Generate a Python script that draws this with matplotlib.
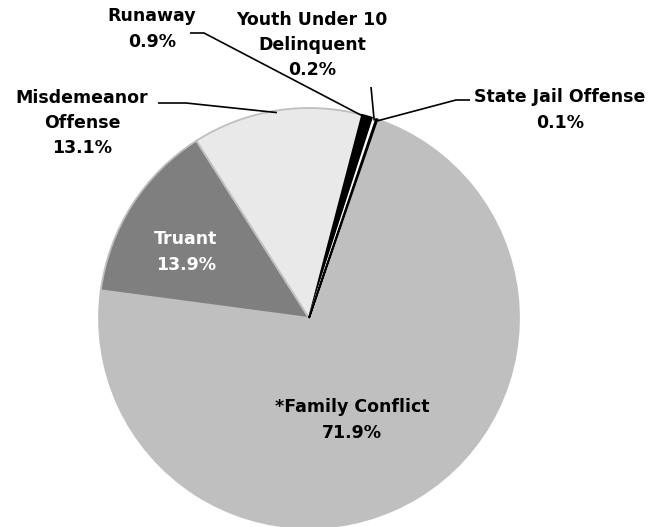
import numpy as np
import matplotlib
matplotlib.use("Agg")
import matplotlib.pyplot as plt

# data, clockwise from just right of 12 o'clock
categories = ["*Family Conflict", "Truant", "Misdemeanor\nOffense", "Runaway",
              "Youth Under 10\nDelinquent", "State Jail Offense"]
shares = [71.9, 13.9, 13.1, 0.9, 0.2, 0.1]
colors = ["#bfbfbf", "#7f7f7f", "#e9e9e9", "#000000", "#ffffff", "#000000"]
edges = ["#bfbfbf", "#bfbfbf", "#bfbfbf", "#000000", "#ffffff", "#000000"]

# pixel -> data helpers (pie centre at px (309, 318), radius 210 px)
CX, CY, R = 309, 318, 210
W, H = 664, 527


def px(x, y):
    return (x - CX) / R, (CY - y) / R


fig = plt.figure(figsize=(W / 100, H / 100), dpi=100)
ax = fig.add_axes([0, 0, 1, 1])

wedges, _ = ax.pie(shares, colors=colors, startangle=71, counterclock=False,
                   radius=1, wedgeprops=dict(linewidth=1.3))
for w, ec in zip(wedges, edges):
    w.set_edgecolor(ec)

ax.set_xlim((0 - CX) / R, (W - CX) / R)
ax.set_ylim((CY - H) / R, CY / R)
ax.set_aspect("auto")
ax.axis("off")

font = dict(family="DejaVu Sans", fontweight="bold", fontsize=12.5,
            ha="center", va="center", linespacing=1.52)


def label_text(i):
    return f"{categories[i]}\n{shares[i]:.1f}%"


def wedge_point(i, r=1.0):
    w = wedges[i]
    mid = np.deg2rad((w.theta1 + w.theta2) / 2)
    return r * np.cos(mid), r * np.sin(mid)


# labels inside the pie
ax.text(*px(352, 420), label_text(0), color="black", **font)
ax.text(*px(186, 252), label_text(1), color="white", **font)

# labels outside with leader lines
outside = [
    (2, (82, 123), [(158, 103), (186, 103)]),
    (3, (152, 29), [(190, 33), (204, 33)]),
    (4, (312, 45), [(371, 87)]),
    (5, (560, 110), [(470, 100), (456, 100)]),
]
for i, (tx, ty), pts in outside:
    ax.text(*px(tx, ty), label_text(i), color="black", **font)
    xs = [px(*p)[0] for p in pts]
    ys = [px(*p)[1] for p in pts]
    wx, wy = wedge_point(i, 0.99)
    xs.append(wx)
    ys.append(wy)
    ax.plot(xs, ys, color="black", linewidth=1.2, solid_capstyle="butt")

fig.savefig("out.png", dpi=100, facecolor="white")
